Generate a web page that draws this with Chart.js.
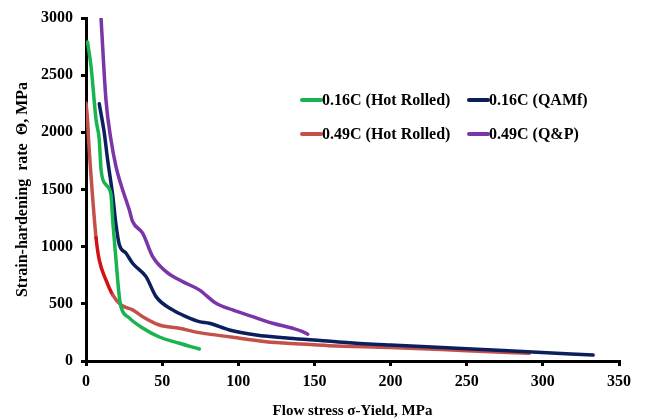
<!DOCTYPE html>
<html>
<head>
<meta charset="utf-8">
<script src="https://cdn.jsdelivr.net/npm/chart.js@4.4.1/dist/chart.umd.min.js"></script>
<style>
  html, body { margin: 0; padding: 0; background: #ffffff; }
  #wrap { width: 646px; height: 420px; position: relative; }
</style>
</head>
<body>
<div id="wrap"><canvas id="c" width="646" height="420"></canvas></div>
<script>
// ---- Data ----
const seriesLabels = ["0.16C (Hot Rolled)", "0.16C (QAMf)", "0.49C (Hot Rolled)", "0.49C (Q&P)"];

const hr016X = [1.0, 3.3, 6.6, 8.7, 9.9, 13.1, 16.4, 17.5, 18.6, 20.8, 21.9, 23.0, 28.4, 37.2, 48.2, 61.3, 74.4];
const hr016Y = [2790, 2577, 2110, 1935, 1672, 1541, 1454, 1235, 1060, 709, 560, 473, 377, 289, 210, 155, 105];

const qam016X = [8.7, 12.0, 14.2, 17.5, 19.7, 21.9, 26.3, 30.6, 39.4, 46.0, 56.9, 65.7, 74.4, 81.0, 94.2, 111.7, 133.6, 155.5, 173.0, 200, 250, 290, 333];
const qam016Y = [2250, 1994, 1760, 1454, 1191, 1016, 943, 855, 738, 563, 447, 388, 344, 330, 271, 228, 199, 178, 160, 140, 108, 80, 52];

const hr049X = [0, 1.0, 1.7, 3.5, 6.6, 8.7, 13.1, 17.5, 23.0, 30.6, 37.2, 48.2, 61.3, 74.4, 96.3, 118.3, 140.1, 159.9, 200, 250, 291];
const hr049Y = [2257, 2110, 1935, 1585, 1077, 884, 709, 578, 490, 447, 388, 315, 286, 248, 208, 169, 149, 134, 118, 90, 67];

const qp049X = [9.9, 13.1, 16.4, 19.7, 23.0, 28.4, 30.6, 37.2, 43.8, 52.6, 63.5, 74.4, 85.4, 96.3, 109.5, 122.6, 135.7, 142.3, 145.6];
const qp049Y = [2992, 2285, 1935, 1701, 1541, 1322, 1220, 1118, 913, 782, 694, 622, 505, 447, 388, 330, 286, 257, 234];

const xTickMin = 0, xTickMax = 350, xTickStep = 50;
const yTickMin = 0, yTickMax = 3000, yTickStep = 500;

const axisTitleX = "Flow stress σ-Yield, MPa";
const axisTitleY = "Strain-hardening  rate  Θ, MPa";

// ---- Build ----
function pts(xs, ys) { return xs.map((x, i) => ({ x: x, y: ys[i] })); }

const colors = ["#18b450", "#0b1f5c", "#c4504a", "#7a35a8"];
const FONT = "'Liberation Serif', 'Times New Roman', serif";

const datasets = [
  { label: seriesLabels[0], data: pts(hr016X, hr016Y), borderColor: colors[0] },
  { label: seriesLabels[1], data: pts(qam016X, qam016Y), borderColor: colors[1] },
  { label: seriesLabels[2], data: pts(hr049X, hr049Y), borderColor: colors[2],
    segment: { borderColor: ctx => (ctx.p0.parsed.y <= 1100 && ctx.p1.parsed.y >= 560) ? "#d41010" : undefined } },
  { label: seriesLabels[3], data: pts(qp049X, qp049Y), borderColor: colors[3] }
].map(d => Object.assign({
  borderWidth: 3.5,
  pointRadius: 0,
  cubicInterpolationMode: 'monotone',
  fill: false,
  borderCapStyle: 'round',
  borderJoinStyle: 'round'
}, d));

// Legend drawn inside the plot area (2 columns x 2 rows)
const insideLegend = {
  id: 'insideLegend',
  afterDraw(chart, args, opts) {
    const ctx = chart.ctx;
    const cols = opts.cols, rows = opts.rows;
    ctx.save();
    ctx.font = "bold 16px " + FONT;
    ctx.textBaseline = 'middle';
    ctx.textAlign = 'left';
    chart.data.datasets.forEach((ds, i) => {
      const x = cols[i % 2], y = rows[Math.floor(i / 2)];
      ctx.strokeStyle = ds.borderColor;
      ctx.lineWidth = 4;
      ctx.lineCap = 'round';
      ctx.beginPath();
      ctx.moveTo(x + 2, y);
      ctx.lineTo(x + opts.sample - 1, y);
      ctx.stroke();
      ctx.fillStyle = '#000';
      ctx.fillText(ds.label, x + opts.sample, y + 1);
    });
    ctx.restore();
  }
};

new Chart(document.getElementById('c'), {
  type: 'line',
  data: { datasets: datasets },
  plugins: [insideLegend],
  options: {
    responsive: false,
    animation: false,
    layout: { padding: { top: 18, right: 27, left: 0, bottom: 0 } },
    plugins: {
      legend: { display: false },
      tooltip: { enabled: false },
      insideLegend: { cols: [300, 467], rows: [100, 134], sample: 22 }
    },
    scales: {
      x: {
        type: 'linear',
        min: xTickMin, max: xTickMax,
        afterFit: s => { s.height = 59; },
        ticks: { stepSize: xTickStep, color: '#000', padding: 6,
                 callback: v => String(v),
                 font: { family: FONT, size: 16, weight: 'bold' } },
        grid: { drawOnChartArea: false, drawTicks: true, tickLength: 5, color: '#000', lineWidth: 3 },
        border: { color: '#000', width: 3 },
        title: { display: true, text: axisTitleX, color: '#000',
                 font: { family: FONT, size: 15, weight: 'bold' }, padding: { top: 0, bottom: 0 } }
      },
      y: {
        type: 'linear',
        min: yTickMin, max: yTickMax,
        afterFit: s => { s.width = 86; },
        ticks: { stepSize: yTickStep, color: '#000', padding: 8,
                 callback: v => String(v),
                 font: { family: FONT, size: 16, weight: 'bold' } },
        grid: { drawOnChartArea: false, drawTicks: true, tickLength: 5, color: '#000', lineWidth: 3 },
        border: { color: '#000', width: 3 },
        title: { display: true, text: axisTitleY, color: '#000',
                 font: { family: FONT, size: 16, weight: 'bold' }, padding: { top: 13, bottom: 0 } }
      }
    }
  }
});
</script>
</body>
</html>
